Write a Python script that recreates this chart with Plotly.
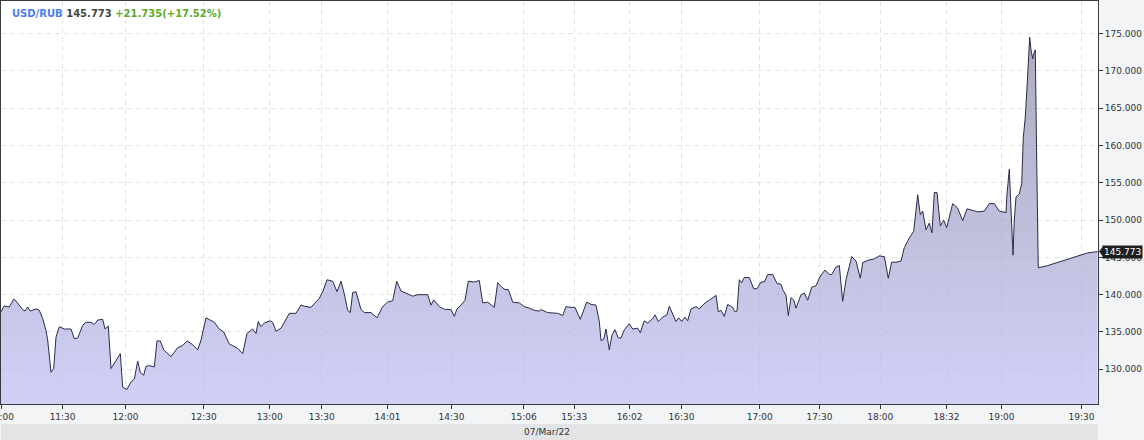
import plotly.graph_objects as go

# ---- data (x = sample position on the chart's index axis, y = USD/RUB rate) ----
x_pos = [0, 3.3, 8.3, 12.7, 15, 21.7, 24, 26.7, 29.3, 35, 38.3, 41.7, 45, 46.7, 50, 52.7, 55, 58.3, 63.3, 70,
         73.3, 76.7, 81.7, 85, 90, 93.3, 96.7, 101.7, 104, 107.3, 110, 115, 119.3, 121.7, 126, 130, 133.3, 136.7,
         139.3, 142.7, 145, 148.3, 153.3, 156, 159.3, 162.7, 170, 176.7, 181.7, 186, 191.7, 196.7, 200, 205,
         213.3, 218.3, 222.7, 228.3, 236.7, 241.7, 246, 251.7, 255, 257.3, 260, 263.3, 269.3, 271.7, 275, 280,
         288.3, 295, 300, 305, 310, 313.3, 318.3, 321.7, 326, 331.7, 336, 340, 343.3, 346.7, 349.3, 351.7, 355,
         360, 363.3, 370, 376, 381.7, 386.7, 391.7, 395.7, 400,
         405, 411.7, 416.7, 426.7, 430, 432.7, 438.3, 443.3, 450, 453.3, 456, 460, 464, 467.3, 473.3, 478.3,
         481.7, 486.7, 493.3, 496.7, 501.7, 504, 507.3, 511.7, 518.3, 523.3, 528.3, 533.3, 538.3, 540, 546.7,
         556.7, 561.7, 565, 570, 574, 579.3, 585.7, 590, 595, 598.3, 600, 602.7, 605, 608.3, 611, 614, 617.3,
         620, 623.3, 628.3, 631.7, 636.7, 639.3, 643.3, 646.7, 651.7, 654, 657.3, 661.7, 666, 668.3, 675, 677.7,
         680.7, 684, 686.7, 690, 695, 698.3, 701.7, 705, 708.3, 715, 717.3, 720, 723.3, 726.7, 731.7, 734, 736,
         738.3, 740.7, 743.3, 748.3, 752.7, 756, 760, 763.3, 766.7, 771.7, 776, 780,
         781.7, 785, 787.3, 790, 792.7, 795, 800, 803.3, 806.7, 810.7, 815, 819.3, 824, 828.3, 830.7, 835, 838.3,
         841.7, 845, 850.7, 855, 859.3, 861.7, 866.7, 873.3, 878.3, 883.3, 887.3, 890.7, 895, 900, 903.3, 908.3,
         912.7, 915, 916.7, 919.3, 921.7, 925, 928.3, 931, 933.3, 936, 939.3, 942.7, 945.7, 951.7, 956.7, 961.7,
         966, 971.7, 976.7, 983.3, 988.3, 993.3, 998.3, 1005,
         1006, 1008.3, 1009.3, 1011, 1012, 1013.3, 1015, 1018.3, 1020.7, 1022.3, 1024.3, 1026, 1027.7, 1028.7,
         1030, 1031.7, 1032.7, 1034.3, 1035.7, 1037.3, 1046.7, 1060, 1073.3, 1086.7, 1096.7]

rate = [137.7, 138.5, 138.35, 139.4, 139.15, 138.0, 137.8, 138.35, 137.8, 138.1, 137.9, 136.8, 135.2, 133.9,
        129.6, 130.1, 134.3, 135.7, 135.4, 135.4, 134.1, 134.2, 135.9, 136.3, 136.3, 136.0, 136.6, 136.7, 135.4,
        135.8, 130.1, 131.2, 132.1, 127.6, 127.3, 128.3, 128.7, 131.1, 129.6, 129.2, 130.4, 130.5, 130.3, 133.8,
        133.8, 132.6, 131.7, 132.9, 133.2, 133.8, 133.3, 132.6, 133.9, 136.9, 136.3, 135.4, 135.0, 133.4, 132.8,
        132.1, 134.8, 135.4, 134.8, 136.4, 135.7, 136.2, 136.5, 136.3, 135.1, 135.5, 137.5, 137.5, 138.6, 138.4,
        138.3, 138.8, 139.5, 140.4, 142.0, 141.8, 140.4, 141.8, 140.1, 137.9, 137.6, 140.3, 140.4, 138.0, 137.6,
        137.6, 136.9, 138.4, 139.0, 139.2, 141.8, 140.5,
        140.2, 139.8, 140.0, 140.0, 138.6, 139.3, 138.4, 138.05, 138.0, 137.1, 138.1, 138.6, 139.25, 141.8, 141.7,
        141.9, 138.9, 139.0, 138.3, 141.6, 140.9, 140.7, 140.7, 139.0, 138.9, 138.4, 138.2, 137.9, 137.8, 138.0,
        137.6, 137.5, 137.2, 138.4, 138.3, 138.3, 136.7, 139.0, 138.7, 138.6, 136.4, 133.85, 134.0, 135.4, 132.6,
        134.6, 135.3, 134.2, 134.2, 135.3, 136.1, 135.4, 135.5, 134.9, 136.5, 136.2, 136.8, 137.3, 136.4, 137.0,
        137.3, 138.45, 136.4, 136.9, 136.4, 137.0, 136.5, 138.1, 138.4, 138.1, 138.6, 139.0, 139.25, 139.9, 137.7,
        137.9, 137.1, 138.7, 138.3, 137.7, 137.8, 142.0, 141.6, 142.3, 142.3, 140.8, 140.8, 141.7, 141.7, 142.7,
        142.7, 141.5, 141.4,
        140.7, 139.9, 137.2, 139.6, 139.3, 138.2, 140.0, 140.2, 139.25, 141.0, 141.2, 142.5, 143.3, 142.7, 142.7,
        143.7, 143.9, 139.1, 142.0, 145.1, 144.5, 142.2, 144.3, 144.6, 144.8, 145.2, 145.1, 142.2, 144.35, 144.35,
        144.5, 146.3, 147.6, 148.5, 151.4, 153.4, 150.7, 151.2, 148.7, 149.6, 148.3, 153.7, 153.7, 149.2, 150.0,
        149.0, 152.2, 151.6, 149.9, 151.5, 151.3, 151.1, 151.2, 152.2, 152.2, 151.2, 151.0,
        153.5, 156.8, 153.5, 148.2, 145.3, 150.0, 153.1, 153.5, 154.9, 161.1, 163.8, 167.8, 171.9, 174.5, 172.8,
        171.6, 172.3, 172.8, 158.0, 143.6, 143.9, 144.5, 145.0, 145.6, 145.773]

tick_pos = [0, 61.6, 124.4, 202.8, 268.7, 320.7, 386.5, 450.4, 522.8, 573.3, 628.6, 680.4, 758.8, 818.5,
            879.3, 945.5, 1000.5, 1080.4]
tick_labels = ["11:00", "11:30", "12:00", "12:30", "13:00", "13:30", "14:01", "14:30", "15:06", "15:33",
               "16:02", "16:30", "17:00", "17:30", "18:00", "18:32", "19:00", "19:30"]
y_ticks = [130, 135, 140, 145, 150, 155, 160, 165, 170, 175]

symbol = "USD/RUB"
last_price = 145.773
change = 21.735
change_pct = 17.52
date_label = "07/Mar/22"

FONT = "DejaVu Sans"
AX = "#3a3a3a"
Y_RANGE = [125.35, 179.355]

fig = go.Figure()
fig.add_trace(go.Scatter(
    x=x_pos, y=rate, mode="lines",
    line=dict(color="#2b2b4a", width=1),
    fill="tozeroy",
    fillgradient=dict(type="vertical", start=Y_RANGE[0], stop=175,
                      colorscale=[[0, "rgba(189,189,244,0.7)"], [1, "rgba(136,136,162,0.7)"]]),
    hoverinfo="skip", showlegend=False,
))

fig.update_layout(
    width=1144, height=440,
    margin=dict(l=1, r=46, t=1, b=36, autoexpand=False),
    paper_bgcolor="#f3f4f6", plot_bgcolor="#ffffff",
    font=dict(family=FONT, size=9, color="#333333"),
    showlegend=False,
    xaxis=dict(range=[0, 1097], tickvals=tick_pos, ticktext=tick_labels, automargin=False,
               showline=True, linecolor=AX, linewidth=1, mirror=True,
               ticks="outside", ticklen=4, tickcolor=AX, tickwidth=1,
               ticklabeloverflow="allow",
               showgrid=True, gridcolor="#e4e4e4", gridwidth=1, griddash="5px,4px",
               zeroline=False, tickfont=dict(family=FONT, size=9, color="#333333")),
    yaxis=dict(range=Y_RANGE, side="right", tickvals=y_ticks, tickformat=".3f", automargin=False,
               showline=True, linecolor=AX, linewidth=1, mirror=True,
               ticks="outside", ticklen=4, tickcolor=AX, tickwidth=1,
               showgrid=True, gridcolor="#e4e4e4", gridwidth=1, griddash="5px,4px",
               zeroline=False, tickfont=dict(family=FONT, size=9, color="#333333")),
)

ph = 440 - 1 - 36
# bottom date band
fig.add_shape(type="rect", xref="paper", yref="paper", x0=0, x1=1, y0=-20 / ph, y1=-36 / ph,
              fillcolor="#e3e4e6", line=dict(width=0), layer="below")
fig.add_annotation(xref="paper", yref="paper", x=0.498, y=-28.3 / ph, text=date_label, showarrow=False,
                   font=dict(family=FONT, size=9, color="#333333"), xanchor="center", yanchor="middle")

# title
sign = "+" if change >= 0 else ""
title = (f'<b><span style="color:#4a7ef0">{symbol}</span> '
         f'<span style="color:#444444">{last_price:.3f}</span> '
         f'<span style="color:#5aab2c">{sign}{change:.3f}({sign}{change_pct:.2f}%)</span></b>')
fig.add_annotation(xref="paper", yref="paper", x=0, y=1, xshift=9, yshift=-5, text=title, showarrow=False,
                   xanchor="left", yanchor="top", font=dict(family=FONT, size=10))

# last price marker on the right axis
fig.add_shape(type="path", xref="paper", yref="y", xsizemode="pixel", ysizemode="pixel",
              xanchor=1, yanchor=last_price, path="M1,0 L5,5 L5,-5 Z",
              fillcolor="#1e1e1e", line=dict(width=0), layer="above")
fig.add_annotation(xref="paper", yref="y", x=1, y=last_price, xshift=4, text=f"{last_price:.3f}",
                   showarrow=False, xanchor="left", yanchor="middle", bgcolor="#1e1e1e", borderpad=1,
                   font=dict(family=FONT, size=9, color="#ffffff"))

fig.write_html("out.html", config={"displayModeBar": False},
               post_script="document.body.style.margin='0px';document.body.style.overflow='hidden';")
